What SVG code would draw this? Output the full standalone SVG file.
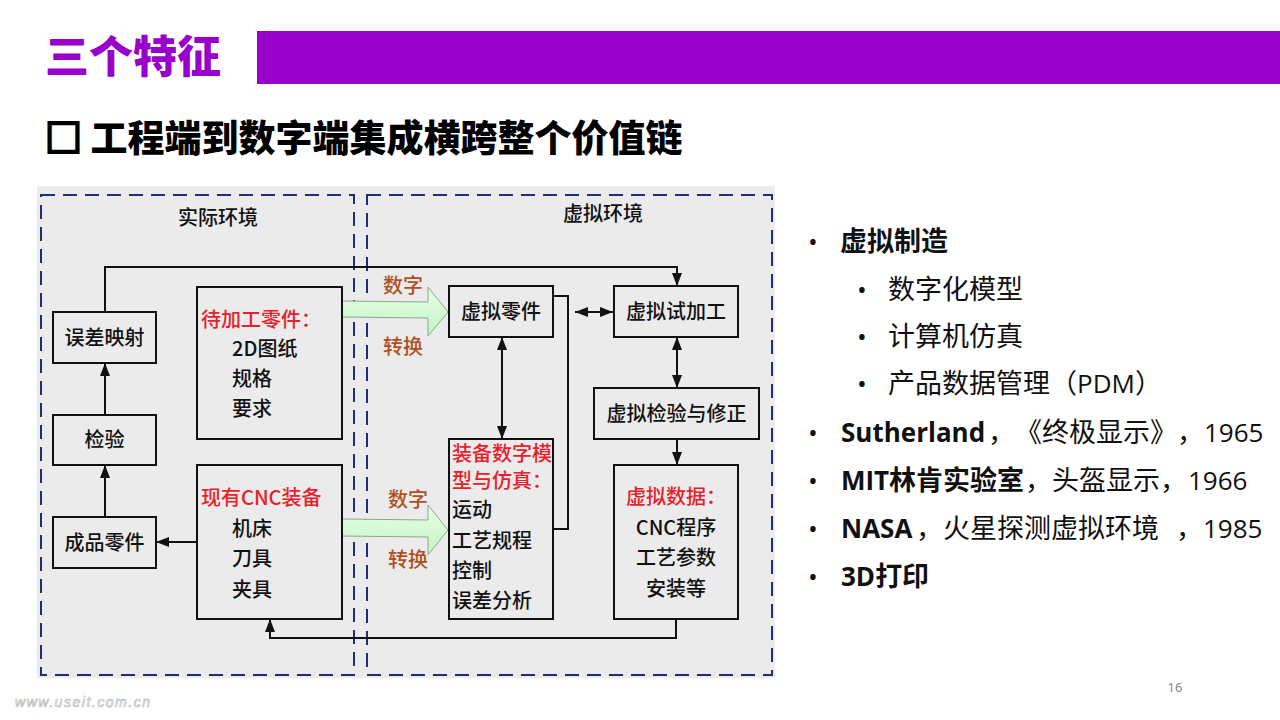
<svg xmlns="http://www.w3.org/2000/svg" width="1280" height="720" viewBox="0 0 1280 720">
<style>
.d{font-family:"Noto Sans CJK SC","Noto Sans",sans-serif;font-size:20px;font-weight:500;fill:#111}
.c{text-anchor:middle}
.red{fill:#e8202a}
.brn{fill:#b0501e}
.box{fill:#ebebeb;stroke:#111;stroke-width:2}
.ln{fill:none;stroke:#111;stroke-width:2}
.dash{fill:none;stroke:#1f2d7a;stroke-width:2;stroke-dasharray:14 8}
.r{font-family:"Noto Sans CJK SC",sans-serif;font-size:27px;fill:#111}
.l{font-family:"Open Sans","Noto Sans",sans-serif;font-size:26px}
.bu{font-family:"Open Sans","Noto Sans",sans-serif;font-size:26px;fill:#111}
.b{font-weight:bold}
</style>
<defs>
<marker id="ah" viewBox="0 0 13 10" refX="13" refY="5" markerWidth="13" markerHeight="10" markerUnits="userSpaceOnUse" orient="auto-start-reverse">
<path d="M0,0 L13,5 L0,10 z" fill="#111"/>
</marker>
<linearGradient id="g" x1="0" y1="0" x2="0" y2="1">
<stop offset="0" stop-color="#e6ffe6"/>
<stop offset="1" stop-color="#c4f5c4"/>
</linearGradient>
</defs>
<rect width="1280" height="720" fill="#fff"/>
<g id="header">
<text x="45" y="73" font-family="Noto Sans CJK SC,sans-serif" font-size="44" font-weight="900" fill="#9900cc">三个特征</text>
<rect x="257" y="31" width="1023" height="53" fill="#9900cc"/>
<text x="45" y="152" font-family="Noto Sans CJK SC,sans-serif" font-size="37" font-weight="900" fill="#000"><tspan stroke="#000" stroke-width="2.5">□</tspan> 工程端到数字端集成横跨整个价值链</text>
</g>
<g id="diagram-bg">
<rect x="37" y="186" width="738" height="492" fill="#ebebeb"/>
<rect x="41" y="195" width="313" height="480" class="dash"/>
<rect x="367" y="195" width="405" height="480" class="dash"/>
<text x="218" y="225" class="d c">实际环境</text>
<text x="603" y="221" class="d c">虚拟环境</text>
</g>
<g id="connectors">
<polygon points="342,301 428,302 428,287 448,312 428,336 428,318 342,317" fill="url(#g)" stroke="#8aa88a" stroke-width="1"/>
<polygon points="342,519 428,520 428,505 448,530 428,555 428,537 342,536" fill="url(#g)" stroke="#8aa88a" stroke-width="1"/>
<path d="M105,517 V465" class="ln" marker-end="url(#ah)"/>
<path d="M105,415 V363" class="ln" marker-end="url(#ah)"/>
<path d="M105,312 V267 H677 V286" class="ln" marker-end="url(#ah)"/>
<path d="M197,542 H156" class="ln" marker-end="url(#ah)"/>
<path d="M676,619 V638 H270 V619" class="ln" marker-end="url(#ah)"/>
<path d="M553,296 H568 V529 H553" class="ln"/>
<path d="M575,312 H613" class="ln" marker-start="url(#ah)" marker-end="url(#ah)"/>
<path d="M502,337 V439" class="ln" marker-start="url(#ah)" marker-end="url(#ah)"/>
<path d="M677,337 V388" class="ln" marker-start="url(#ah)" marker-end="url(#ah)"/>
<path d="M677,439 V465" class="ln" marker-end="url(#ah)"/>
</g>
<g id="n-error-map"><rect x="53" y="312" width="103" height="51" class="box"/><text x="104.5" y="345" class="d c" font-size="21">误差映射</text></g>
<g id="n-inspect"><rect x="53" y="415" width="103" height="50" class="box"/><text x="104.5" y="447" class="d c" font-size="21">检验</text></g>
<g id="n-finished"><rect x="53" y="517" width="103" height="51" class="box"/><text x="104.5" y="550" class="d c" font-size="21">成品零件</text></g>
<g id="n-workpiece"><rect x="197" y="287" width="145" height="152" class="box"/>
<text x="201" y="327" class="d red">待加工零件：</text>
<text x="232" y="356" class="d">2D图纸</text>
<text x="232" y="386" class="d">规格</text>
<text x="232" y="416" class="d">要求</text></g>
<g id="n-cnc"><rect x="197" y="465" width="145" height="154" class="box"/>
<text x="201" y="505" class="d red">现有CNC装备</text>
<text x="232" y="536" class="d">机床</text>
<text x="232" y="566" class="d">刀具</text>
<text x="232" y="597" class="d">夹具</text></g>
<g id="labels-convert">
<text x="383" y="293" class="d brn">数字</text>
<text x="383" y="354" class="d brn">转换</text>
<text x="388" y="507" class="d brn">数字</text>
<text x="388" y="567" class="d brn">转换</text>
</g>
<g id="n-virtual-part"><rect x="449" y="286" width="104" height="51" class="box"/><text x="501" y="319" class="d c" font-size="21">虚拟零件</text></g>
<g id="n-virtual-trial"><rect x="614" y="286" width="124" height="51" class="box"/><text x="676" y="319" class="d c" font-size="21">虚拟试加工</text></g>
<g id="n-virtual-check"><rect x="594" y="388" width="165" height="51" class="box"/><text x="676.5" y="421" class="d c" font-size="21">虚拟检验与修正</text></g>
<g id="n-equip-model"><rect x="449" y="439" width="104" height="180" class="box"/>
<text x="452" y="461" class="d red" font-size="17">装备数字模</text>
<text x="452" y="488" class="d red" font-size="17">型与仿真：</text>
<text x="452" y="517" class="d">运动</text>
<text x="452" y="548" class="d">工艺规程</text>
<text x="452" y="578" class="d">控制</text>
<text x="452" y="608" class="d">误差分析</text></g>
<g id="n-virtual-data"><rect x="614" y="465" width="124" height="154" class="box"/>
<text x="626" y="504" class="d red">虚拟数据：</text>
<text x="676" y="535" class="d c">CNC程序</text>
<text x="676" y="565" class="d c">工艺参数</text>
<text x="676" y="596" class="d c">安装等</text></g>
<g id="bullets">
<text x="808" y="251" class="bu">•</text><text x="840" y="251" class="r b">虚拟制造</text>
<text x="857" y="299" class="bu">•</text><text x="888" y="299" class="r">数字化模型</text>
<text x="857" y="346" class="bu">•</text><text x="888" y="346" class="r">计算机仿真</text>
<text x="857" y="393" class="bu">•</text><text y="393" class="r"><tspan x="888">产品数据管理</tspan><tspan x="1050">（</tspan><tspan x="1077" class="l">PDM</tspan><tspan x="1135">）</tspan></text>
<text x="808" y="442" class="bu">•</text><text y="442" class="r"><tspan x="841" class="l b">Sutherland</tspan><tspan x="988">，</tspan><tspan x="1015">《终极显示》</tspan><tspan x="1177">，</tspan><tspan x="1204" class="l">1965</tspan></text>
<text x="808" y="490" class="bu">•</text><text y="490" class="r"><tspan x="841" class="l b">MIT</tspan><tspan x="889" class="b">林肯实验室</tspan><tspan x="1025">，</tspan><tspan x="1052">头盔显示</tspan><tspan x="1160">，</tspan><tspan x="1188" class="l">1966</tspan></text>
<text x="808" y="538" class="bu">•</text><text y="538" class="r"><tspan x="841" class="l b">NASA</tspan><tspan x="916">，</tspan><tspan x="943">火星探测虚拟环境</tspan><tspan x="1176">，</tspan><tspan x="1203" class="l">1985</tspan></text>
<text x="808" y="586" class="bu">•</text><text y="586" class="r b"><tspan x="841" class="l b">3D</tspan><tspan>打印</tspan></text>
</g>
<text x="1175" y="692" font-family="Noto Sans,sans-serif" font-size="13" fill="#888" text-anchor="middle">16</text>
<text x="15" y="707" font-family="Liberation Sans,sans-serif" font-size="14" font-style="italic" fill="#fff" stroke="#bbb" stroke-width="0.7" textLength="135">www.useit.com.cn</text>
</svg>
